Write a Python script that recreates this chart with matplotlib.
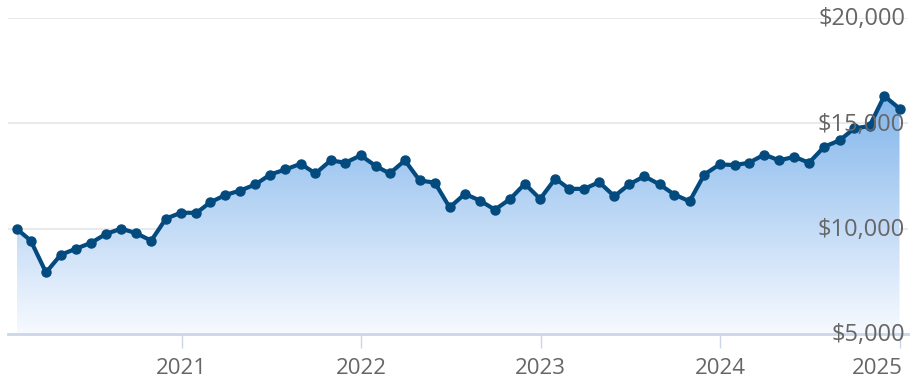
import numpy as np
import pandas as pd
import matplotlib
matplotlib.use("Agg")
import matplotlib.pyplot as plt
import matplotlib.dates as mdates
import matplotlib.transforms as mtransforms
from matplotlib.patches import Polygon

plt.rcParams['font.family'] = ['Open Sans', 'DejaVu Sans']

# month-end growth of $10,000
dates = pd.date_range('2020-01-31', periods=60, freq='ME')
values = [10000, 9430, 7920, 8760, 9050, 9320, 9750, 10000, 9790, 9430,
          10480, 10760, 10750, 11250, 11600, 11810, 12100, 12570, 12810, 13080,
          12620, 13240, 13130, 13480, 12970, 12620, 13240, 12290, 12180, 11010,
          11650, 11330, 10900, 11410, 12130, 11410, 12380, 11890, 11890, 12210,
          11540, 12100, 12490, 12100, 11620, 11300, 12570, 13050, 13020, 13130,
          13520, 13240, 13410, 13130, 13890, 14190, 14760, 14870, 16300, 15700]
y_ticks = [5000, 10000, 15000, 20000]
year_ticks = ['2021', '2022', '2023', '2024', '2025']

W, H = 921, 377
fig = plt.figure(figsize=(W / 100, H / 100), dpi=100)
ax = fig.add_axes([8 / W, (H - 334) / H, 900 / W, (334 - 18) / H])

x = mdates.date2num(dates)
tick_x = mdates.date2num(pd.to_datetime([y + '-01-01' for y in year_ticks]))
# pixel scale: first point at 16.5px, 2025 tick at 900px
px_per_day = (900 - 16.5) / (tick_x[-1] - x[0])
xmin = x[0] - (16.5 - 8) / px_per_day
xmax = xmin + 900 / px_per_day

# gradient area under the line
y = np.array(values)
verts = np.vstack([np.column_stack([x, y]), [[x[-1], 5000], [x[0], 5000]]])
poly = Polygon(verts, closed=True, facecolor='none', edgecolor='none')
ax.add_patch(poly)
top = np.array([0.44, 0.67, 0.91])
bot = np.array([0.97, 0.98, 1.0])
t = np.linspace(0, 1, 256)[:, None]
grad = (top * (1 - t) + bot * t)[:, None, :]
im = ax.imshow(grad, extent=[x[0], x[-1], 5000, 18000], aspect='auto',
               origin='upper', zorder=1, interpolation='bilinear')
im.set_clip_path(poly)
ax.set_xlim(xmin, xmax)
ax.set_ylim(5000, 20000)

for v in y_ticks[1:]:
    ax.axhline(v, color='#e6e6e6', lw=1.2, zorder=0.5)
ax.axhline(5000, color='#ccd6eb', lw=2, zorder=2, clip_on=False)

ax.plot(x, y, color='#034a7e', lw=3, marker='o', ms=6.5, zorder=3,
        solid_joinstyle='round')

for v in y_ticks:
    ax.annotate('${:,}'.format(v), xy=(0.9967, v),
                xycoords=ax.get_yaxis_transform(), xytext=(0, -1),
                textcoords='offset points', ha='right', va='center',
                fontsize=17, color='#666666', zorder=5, annotation_clip=False)

for s in ax.spines.values():
    s.set_visible(False)
ax.set_yticks([])
ax.set_xticks(tick_x)
ax.set_xticklabels(year_ticks)
ax.tick_params(axis='x', length=10, width=1, color='#ccd6eb', pad=7,
               labelsize=16, labelcolor='#666666')

# keep the last year label inside the figure
last = ax.get_xticklabels()[-1]
last.set_horizontalalignment('right')
last.set_transform(last.get_transform() +
                   mtransforms.ScaledTranslation(3 / 100, 0, fig.dpi_scale_trans))

fig.savefig('out.png', dpi=100)
